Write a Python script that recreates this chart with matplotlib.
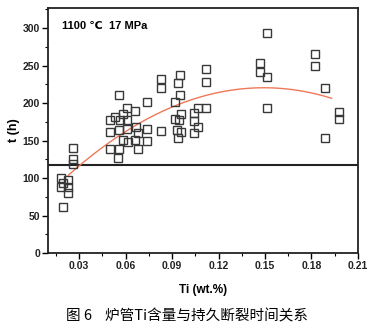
import numpy as np
import matplotlib
matplotlib.use("Agg")
import matplotlib.pyplot as plt
from matplotlib.ticker import MultipleLocator

plt.rcParams['font.family'] = ['Liberation Sans', 'DejaVu Sans']

# Ti content (wt.%) and rupture time t (h)
ti = [0.018, 0.018, 0.0195, 0.023, 0.023, 0.023, 0.0195,
      0.026, 0.026, 0.026,
      0.050, 0.050, 0.050, 0.053, 0.0555, 0.0555, 0.0555, 0.055,
      0.058, 0.058, 0.0565, 0.061, 0.061, 0.061, 0.0615,
      0.066, 0.0665, 0.066, 0.068, 0.068, 0.074, 0.074, 0.074,
      0.083, 0.083, 0.083, 0.095, 0.094, 0.095, 0.092, 0.0955,
      0.0945, 0.092, 0.093, 0.096, 0.094,
      0.104, 0.104, 0.104, 0.107, 0.107, 0.112, 0.112, 0.112,
      0.1465, 0.1465, 0.151, 0.151, 0.151,
      0.182, 0.182, 0.189, 0.189, 0.1977, 0.1977]
t_h = [100, 88, 93, 97, 88, 80, 62,
       140, 126, 119,
       177, 162, 139, 182, 211, 164, 139, 127,
       186, 151, 177, 193, 177, 166, 148,
       190, 168, 151, 160, 139, 201, 165, 150,
       232, 220, 163, 238, 227, 211, 201, 186,
       177, 179, 164, 162, 153,
       187, 176, 160, 193, 168, 246, 228, 194,
       253, 241, 235, 294, 194,
       265, 249, 220, 153, 188, 179]

# quadratic trend line
fit_x = [0.023, 0.04, 0.06, 0.08, 0.10, 0.12, 0.14, 0.152, 0.165, 0.18, 0.193]
fit_y = [101, 135, 164, 187, 203, 213, 218.5, 219.5, 218, 214, 208]

threshold = 118
label = "1100 \u2103  17 MPa"

fig = plt.figure(figsize=(3.74, 3.30), dpi=100)
ax = fig.add_axes([0.129, 0.233, 0.828, 0.743])

ax.axhline(threshold, color='#222222', lw=1.5, zorder=1)
ax.plot(ti, t_h, 's', ms=5.8, mfc='none', mec='#383838', mew=1.0, zorder=3)

# smooth the read trend points with a quadratic through them
c = np.polyfit(fit_x, fit_y, 2)
xx = np.linspace(fit_x[0], fit_x[-1], 200)
ax.plot(xx, np.polyval(c, xx), color='#f07858', lw=1.0, zorder=2)

ax.set_xlim(0.01, 0.21)
ax.set_ylim(0, 327)
ax.xaxis.set_major_locator(MultipleLocator(0.03))
ax.xaxis.set_minor_locator(MultipleLocator(0.015))
ax.yaxis.set_major_locator(MultipleLocator(50))
ax.yaxis.set_minor_locator(MultipleLocator(25))
ax.set_xticks([0.03, 0.06, 0.09, 0.12, 0.15, 0.18, 0.21])
ax.set_xticklabels(['0.03', '0.06', '0.09', '0.12', '0.15', '0.18', '0.21'])
ax.tick_params(which='major', direction='out', length=4, width=1.0, labelsize=7.5, pad=2)
ax.tick_params(which='minor', direction='out', length=2.5, width=0.8)
for lab in ax.get_xticklabels() + ax.get_yticklabels():
    lab.set_fontweight('bold')
    lab.set_color('#222222')
for s in ax.spines.values():
    s.set_linewidth(1.3)
    s.set_color('#222222')

ax.set_xlabel('Ti (wt.%)', fontsize=8.5, fontweight='bold', labelpad=9)
ax.set_ylabel('t (h)', fontsize=9, fontweight='bold', labelpad=2)
ax.text(0.044, 0.925, label, transform=ax.transAxes, fontsize=8,
        fontweight='bold', va='center', ha='left')

fig.text(0.5, 0.042, '图 6    炉管Ti含量与持久断裂时间关系', ha='center', va='center',
         fontsize=10.5, family=['Noto Sans CJK SC', 'DejaVu Sans'])

fig.savefig('out.png', dpi=100)
